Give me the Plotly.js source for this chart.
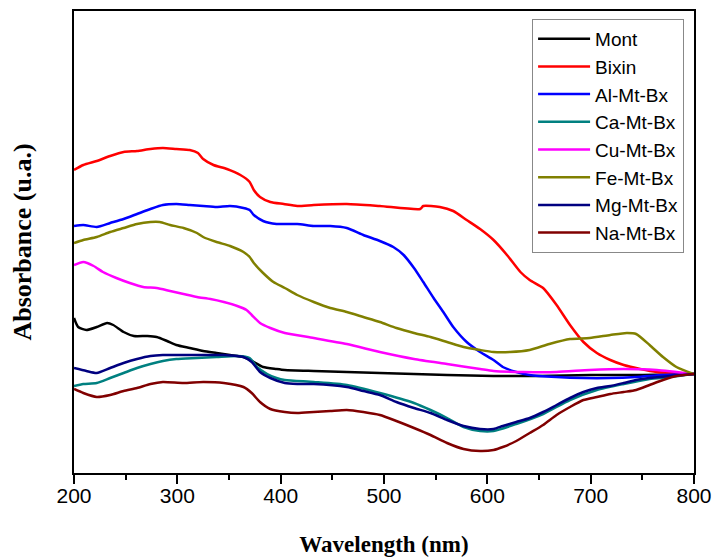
<!DOCTYPE html>
<html>
<head>
<meta charset="utf-8">
<script src="https://cdn.plot.ly/plotly-3.0.1.min.js"></script>
<style>html,body{margin:0;padding:0;background:#fff;}#chart{width:716px;height:559px;}</style>
</head>
<body>
<div id="chart"></div>
<script>
// Series names and colours
const seriesNames = ["Mont","Bixin","Al-Mt-Bx","Ca-Mt-Bx","Cu-Mt-Bx","Fe-Mt-Bx","Mg-Mt-Bx","Na-Mt-Bx"];
const seriesColors = ["#000000","#FF0000","#0000FF","#008080","#FF00FF","#808000","#000080","#800000"];

// Mont
const montWl = [200,204,212,222,232,238,248,258,271,280,290,299,312,325,338,351,364,374,383,396,404,432,464,496,529,561,606,650,700,750,800];
const montAbs = [1.55,1.46,1.43,1.46,1.50,1.48,1.41,1.37,1.37,1.36,1.32,1.28,1.25,1.22,1.20,1.18,1.16,1.11,1.06,1.04,1.03,1.02,1.01,1.00,0.99,0.98,0.97,0.97,0.98,0.98,0.99];

// Bixin
const bixinWl = [200,209,222,235,248,261,274,286,299,312,320,325,335,348,361,370,374,380,390,403,416,432,464,496,535,538,554,567,580,593,606,619,632,641,654,667,680,693,706,719,732,748,764,783,800];
const bixinAbs = [3.03,3.08,3.12,3.17,3.21,3.22,3.24,3.25,3.24,3.23,3.20,3.14,3.08,3.04,2.98,2.91,2.83,2.76,2.71,2.69,2.67,2.68,2.69,2.67,2.64,2.67,2.66,2.62,2.53,2.44,2.33,2.18,2.01,1.93,1.85,1.68,1.48,1.31,1.20,1.13,1.08,1.04,1.01,1.00,0.99];

// Al-Mt-Bx
const alWl = [200,209,222,235,248,261,274,286,299,312,325,338,351,364,370,374,383,396,416,432,448,464,480,496,509,519,529,538,548,558,567,580,593,606,615,628,641,667,693,719,744,770,800];
const alAbs = [2.47,2.48,2.46,2.50,2.54,2.59,2.64,2.68,2.69,2.68,2.67,2.66,2.67,2.65,2.63,2.58,2.52,2.49,2.49,2.47,2.47,2.45,2.38,2.32,2.26,2.18,2.05,1.91,1.75,1.60,1.46,1.31,1.21,1.13,1.06,1.01,0.98,0.96,0.95,0.95,0.96,0.98,0.99];

// Ca-Mt-Bx
const caWl = [200,209,222,235,248,261,274,286,299,319,338,358,370,377,387,396,404,432,464,496,529,545,561,577,593,606,628,654,680,706,732,757,777,800];
const caAbs = [0.87,0.89,0.90,0.95,1.00,1.05,1.09,1.12,1.14,1.15,1.16,1.17,1.15,1.06,0.99,0.95,0.93,0.91,0.88,0.80,0.70,0.63,0.55,0.46,0.42,0.42,0.49,0.59,0.73,0.83,0.89,0.94,0.96,0.99];

// Cu-Mt-Bx
const cuWl = [200,209,219,228,241,254,267,280,293,306,319,332,345,358,367,372,380,390,404,432,464,496,529,561,593,606,635,667,699,732,764,800];
const cuAbs = [2.08,2.11,2.07,2.01,1.95,1.90,1.86,1.85,1.82,1.79,1.76,1.74,1.71,1.67,1.63,1.58,1.50,1.45,1.40,1.35,1.29,1.21,1.14,1.09,1.04,1.02,1.01,1.01,1.03,1.04,1.03,0.99];

// Fe-Mt-Bx
const feWl = [200,209,222,235,248,261,274,283,293,306,319,325,338,351,364,370,374,383,393,404,416,432,448,464,480,496,512,529,545,561,577,593,606,622,641,660,680,699,719,735,744,757,770,783,800];
const feAbs = [2.30,2.33,2.36,2.41,2.45,2.49,2.51,2.51,2.48,2.45,2.40,2.36,2.31,2.27,2.21,2.16,2.10,2.00,1.91,1.85,1.78,1.71,1.65,1.61,1.56,1.51,1.45,1.40,1.36,1.31,1.26,1.23,1.21,1.21,1.23,1.29,1.34,1.35,1.38,1.40,1.39,1.28,1.16,1.06,0.99];

// Mg-Mt-Bx
const mgWl = [200,212,222,235,248,261,274,286,306,325,345,364,372,380,390,404,416,432,464,480,496,512,529,545,561,577,593,606,615,628,641,654,667,680,693,706,719,732,744,757,777,800];
const mgAbs = [1.05,1.02,1.00,1.05,1.10,1.14,1.17,1.18,1.18,1.18,1.18,1.16,1.11,1.01,0.95,0.90,0.89,0.89,0.86,0.82,0.78,0.71,0.65,0.60,0.53,0.47,0.44,0.44,0.47,0.51,0.55,0.61,0.68,0.75,0.81,0.85,0.87,0.90,0.93,0.95,0.97,0.99];

// Na-Mt-Bx
const naWl = [200,209,222,235,248,261,274,286,306,325,345,364,372,380,390,404,416,432,448,464,480,496,512,529,545,561,577,593,606,615,628,641,654,667,680,693,706,719,732,744,757,770,783,800];
const naAbs = [0.84,0.80,0.76,0.78,0.82,0.85,0.89,0.91,0.90,0.91,0.90,0.86,0.80,0.71,0.64,0.61,0.60,0.61,0.62,0.63,0.61,0.58,0.52,0.45,0.38,0.30,0.24,0.22,0.23,0.26,0.32,0.40,0.48,0.58,0.66,0.73,0.76,0.79,0.81,0.83,0.88,0.93,0.97,0.99];

const xTickVals = [200,300,400,500,600,700,800];
const xTickText = ["200","300","400","500","600","700","800"];

const allX = [montWl,bixinWl,alWl,caWl,cuWl,feWl,mgWl,naWl];
const allY = [montAbs,bixinAbs,alAbs,caAbs,cuAbs,feAbs,mgAbs,naAbs];

const traces = seriesNames.map((name,i)=>({
  type:'scatter', mode:'lines', name:name,
  x: allX[i], y: allY[i],
  line:{color:seriesColors[i], width:2.5, shape:'spline', smoothing:0.6}
}));

const layout = {
  width:716, height:559,
  margin:{l:74, r:22, t:11, b:86},
  paper_bgcolor:'#fff', plot_bgcolor:'#fff',
  showlegend:true,
  legend:{
    x:0.984, xanchor:'right', y:0.983, yanchor:'top',
    bgcolor:'#fff', bordercolor:'#888', borderwidth:1,
    font:{family:'Liberation Sans, Arial, sans-serif', size:19, color:'#000'},
    itemwidth:52, tracegroupgap:0
  },
  xaxis:{
    range:[200,800], showgrid:false, zeroline:false,
    showline:true, linecolor:'#000', linewidth:2, mirror:true,
    ticks:'outside', ticklen:9, tickwidth:2, tickcolor:'#000',
    tickvals:xTickVals, ticktext:xTickText, ticklabelstandoff:-6,
    minor:{dtick:50, ticks:'outside', ticklen:5, tickwidth:2, tickcolor:'#000', showgrid:false},
    tickfont:{family:'Liberation Sans, Arial, sans-serif', size:21, color:'#000'},
    title:{text:'Wavelength (nm)', standoff:30, font:{family:'Liberation Serif, Times New Roman, serif', size:23, color:'#000', weight:'bold'}},
    automargin:false
  },
  yaxis:{
    range:[0,4.62], showgrid:false, zeroline:false,
    showline:true, linecolor:'#000', linewidth:2, mirror:true,
    ticks:'', showticklabels:false,
    title:{text:'Absorbance (u.a.)', standoff:33, font:{family:'Liberation Serif, Times New Roman, serif', size:26, color:'#000', weight:'bold'}},
    automargin:false
  }
};

Plotly.newPlot('chart', traces, layout, {displayModeBar:false, staticPlot:true});
</script>
</body>
</html>
